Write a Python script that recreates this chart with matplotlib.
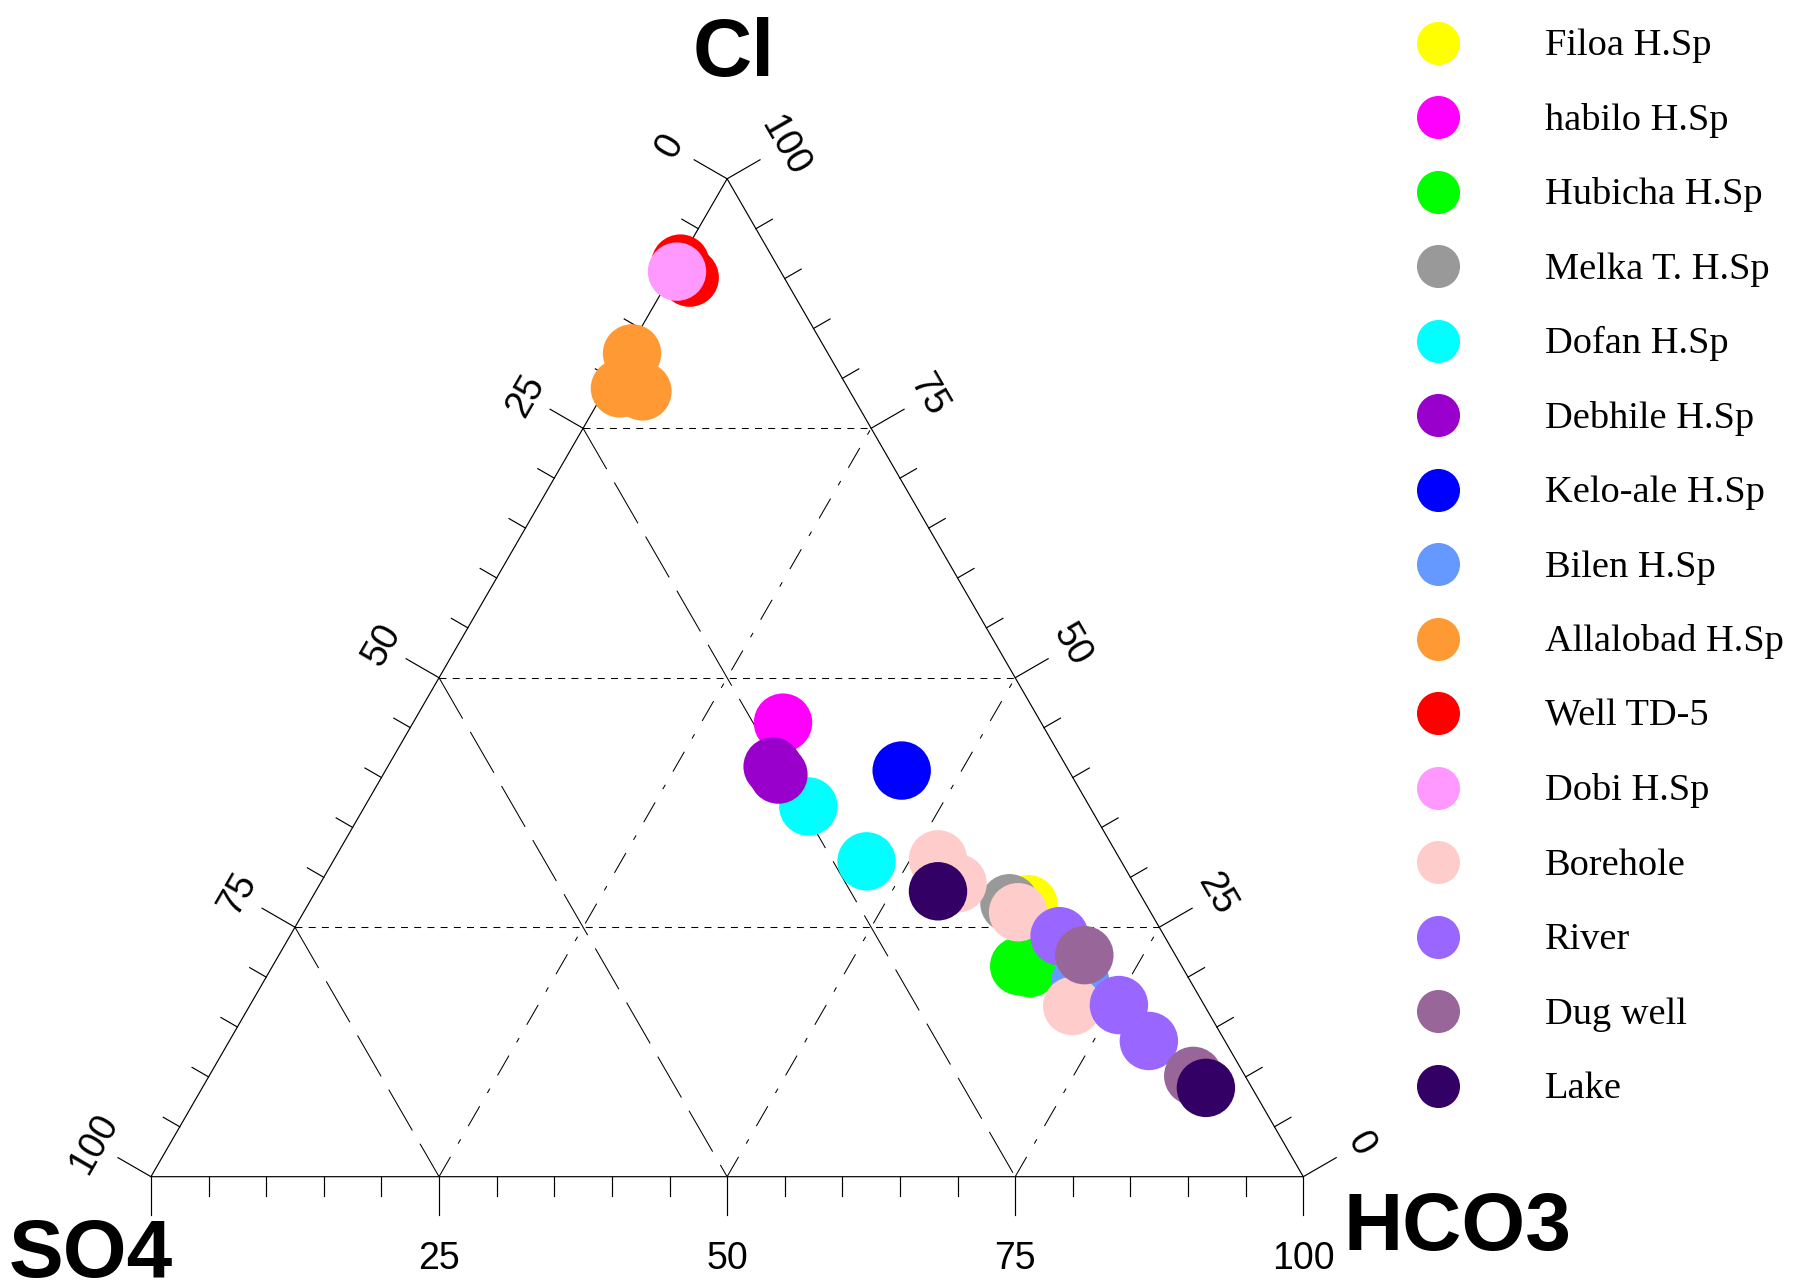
import numpy as np
import matplotlib.pyplot as plt

plt.rcParams['lines.scale_dashes'] = False
plt.rcParams['font.family'] = ['Liberation Sans', 'DejaVu Sans']

# legend groups and their colours
groups = ['Filoa H.Sp', 'habilo H.Sp', 'Hubicha H.Sp', 'Melka T. H.Sp', 'Dofan H.Sp',
          'Debhile H.Sp', 'Kelo-ale H.Sp', 'Bilen H.Sp', 'Allalobad H.Sp', 'Well TD-5',
          'Dobi H.Sp', 'Borehole', 'River', 'Dug well', 'Lake']
colors = ['#FFFF00', '#FF00FF', '#00FF00', '#999999', '#00FFFF',
          '#9900CC', '#0000FF', '#6699FF', '#FF9933', '#FF0000',
          '#FF99FF', '#FFCCCC', '#9966FF', '#996699', '#330066']

# samples (% meq): group, Cl, HCO3, SO4
sample_group = ['Filoa H.Sp', 'habilo H.Sp', 'Hubicha H.Sp', 'Hubicha H.Sp', 'Melka T. H.Sp',
                'Dofan H.Sp', 'Dofan H.Sp', 'Debhile H.Sp', 'Debhile H.Sp', 'Kelo-ale H.Sp',
                'Bilen H.Sp', 'Allalobad H.Sp', 'Allalobad H.Sp', 'Allalobad H.Sp',
                'Well TD-5', 'Well TD-5', 'Dobi H.Sp',
                'Borehole', 'Borehole', 'Borehole', 'Borehole',
                'River', 'River', 'River', 'Dug well', 'Dug well', 'Lake', 'Lake']
cl_pct = [27.3, 45.5, 21.1, 20.9, 27.4,
          37.1, 31.6, 41.1, 40.3, 40.7,
          19.5, 82.5, 79.0, 78.7,
          91.5, 90.1, 90.7,
          31.8, 29.4, 26.5, 17.1,
          24.1, 17.2, 13.6, 22.2, 10.1, 28.6, 8.9]
hco3_pct = [62.5, 32.1, 64.8, 65.8, 60.8,
            38.5, 46.3, 33.4, 34.3, 44.8,
            70.9, 0.5, 1.2, 3.3,
            0.2, 1.7, 0.3,
            52.4, 55.3, 62.0, 71.4,
            66.8, 75.4, 79.8, 69.9, 85.4, 54.0, 87.1]
so4_pct = [10.2, 22.4, 14.1, 13.3, 11.8,
           24.4, 22.1, 25.5, 25.4, 14.5,
           9.6, 17.0, 19.8, 18.0,
           8.3, 8.2, 9.0,
           15.8, 15.3, 11.5, 11.5,
           9.1, 7.4, 6.6, 7.9, 4.5, 17.4, 4.0]

ticks = [0, 25, 50, 75, 100]

SQ = np.sqrt(3) / 2


def to_xy(cl, hco3):
    cl = np.asarray(cl, dtype=float)
    hco3 = np.asarray(hco3, dtype=float)
    return hco3 + cl / 2, cl * SQ


fig = plt.figure(figsize=(18.05, 12.85), dpi=100)
ax = fig.add_axes([0, 0, 1, 1])
ax.set_xlim(-13.10, 143.54)
ax.set_ylim(-9.40, 102.12)
ax.axis('off')

# triangle frame
x, y = to_xy([100, 0, 0, 100], [0, 0, 100, 0])
ax.plot(x, y, color='black', lw=0.85, zorder=2, solid_joinstyle='miter')

# grid lines
for v in ticks[1:-1]:
    x, y = to_xy([v, v], [0, 100 - v])          # constant Cl
    ax.plot(x, y, color='black', lw=0.75, ls=(0, (5, 4.5)), zorder=1)
    x, y = to_xy([100 - v, 0], [0, 100 - v])    # constant SO4
    ax.plot(x, y, color='black', lw=0.75, ls=(0, (34, 11)), zorder=1)
    x, y = to_xy([0, 100 - v], [v, v])          # constant HCO3
    ax.plot(x, y, color='black', lw=0.75, ls=(0, (16.5, 11, 3.6, 11)), zorder=1)

# ticks
minor_len, major_len = 1.65, 3.3
cx, sx = np.cos(np.pi / 6), np.sin(np.pi / 6)
for t in range(0, 101, 5):
    L = major_len if t % 25 == 0 else minor_len
    bx, by = to_xy(0, t)
    ax.plot([bx, bx], [by, by - L], color='black', lw=0.85, zorder=2)
    lx, ly = to_xy(100 - t, 0)
    ax.plot([lx, lx - L * cx], [ly, ly + L * sx], color='black', lw=0.85, zorder=2)
    rx, ry = to_xy(t, 100 - t)
    ax.plot([rx, rx + L * cx], [ry, ry + L * sx], color='black', lw=0.85, zorder=2)

# tick labels
off = 5.7
for t in ticks:
    lx, ly = to_xy(100 - t, 0)
    ax.text(lx - off * cx, ly + off * sx, str(t), rotation=60, fontsize=27,
            ha='center', va='center')
    rx, ry = to_xy(t, 100 - t)
    ax.text(rx + off * cx, ry + off * sx, str(t), rotation=-60, fontsize=27,
            ha='center', va='center')
    if t > 0:
        bx, by = to_xy(0, t)
        ax.text(bx, by - 8.0, str(t), fontsize=27, ha='center', va='baseline')

# apex titles
ax.text(50.6, 95.5, 'Cl', fontsize=59, fontweight='bold', ha='center', va='baseline')
ax.text(-5.2, -8.7, 'SO4', fontsize=59, fontweight='bold', ha='center', va='baseline')
ax.text(113.4, -6.4, 'HCO3', fontsize=59, fontweight='bold', ha='center', va='baseline')

# samples, in legend order
for name, col in zip(groups, colors):
    idx = [i for i, g in enumerate(sample_group) if g == name]
    cl = np.array([cl_pct[i] for i in idx])
    hc = np.array([hco3_pct[i] for i in idx])
    so = np.array([so4_pct[i] for i in idx])
    tot = cl + hc + so
    x, y = to_xy(cl / tot * 100, hc / tot * 100)
    ax.scatter(x, y, s=1770, color=col, edgecolors='none', zorder=3)

# legend
for i, (name, col) in enumerate(zip(groups, colors)):
    yy = 1 - (42.6 + i * 74.5) / 1285
    ax.plot(1438 / 1805, yy, 'o', ms=31, color=col, mec='none',
            transform=fig.transFigure, clip_on=False)
    ax.text(1545 / 1805, yy - 12.5 / 1285, name, transform=fig.transFigure,
            family=['Liberation Serif', 'DejaVu Serif'], fontsize=27.6, va='baseline')

fig.savefig('out.png', dpi=100)
